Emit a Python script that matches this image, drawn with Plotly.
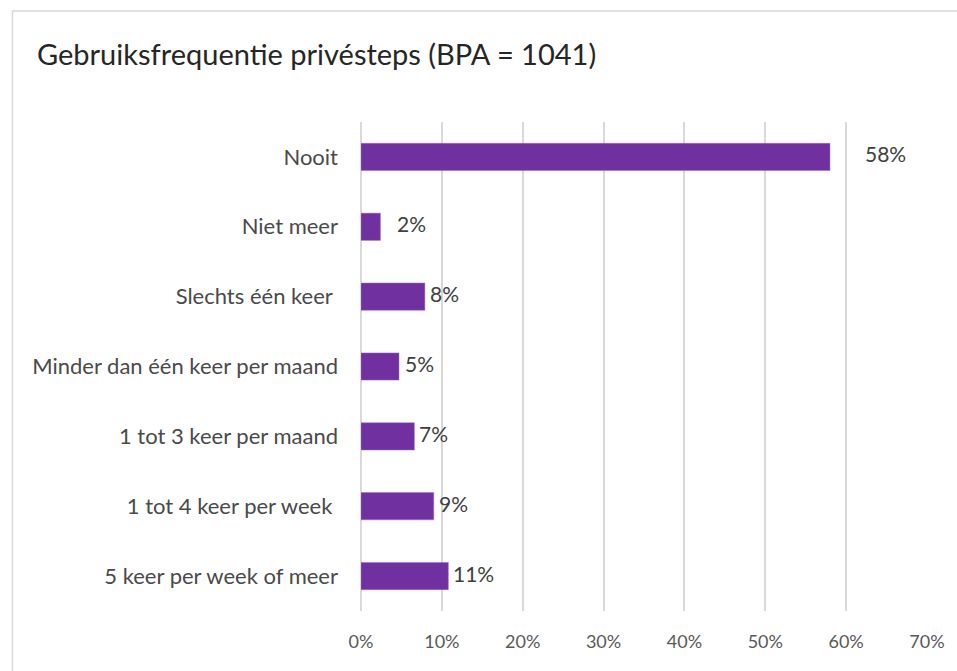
import plotly.graph_objects as go

categories = ["Nooit", "Niet meer", "Slechts één keer\u00a0", "Minder dan één keer per maand",
              "1 tot 3 keer per maand", "1 tot 4 keer per week\u00a0", "5 keer per week of meer"]
values = [58.0, 2.4, 7.9, 4.7, 6.6, 9.0, 10.8]
labels = ["58%", "2%", "8%", "5%", "7%", "9%", "11%"]
tick_vals = [0, 10, 20, 30, 40, 50, 60, 70]
tick_text = ["0%", "10%", "20%", "30%", "40%", "50%", "60%", "70%"]

# style: per-label horizontal offsets (px) as in the original chart
label_xshift = [33, 15, 3, 4, 3, 3, 3]

W, H = 957, 671
L, R, T, B = 361, 26, 122, 60
pw, ph = W - L - R, H - T - B

PURPLE = "#7030A0"
FONT = "Lato"

fig = go.Figure(go.Bar(
    x=values, y=categories, orientation="h",
    marker=dict(color=PURPLE, line=dict(color="#9a6fc4", width=0.5)),
    width=0.39, hoverinfo="skip",
))

annotations = []
for v, c, t, dx in zip(values, categories, labels, label_xshift):
    annotations.append(dict(x=v, y=c, xref="x", yref="y", text=t, showarrow=False,
                            xanchor="left", yanchor="middle", xshift=dx, yshift=3,
                            font=dict(family=FONT, size=21, color="#404040")))

def px_to_paper_x(px):
    return (px - L) / pw

def px_to_paper_y(py):
    return (H - B - py) / ph

fig.update_layout(
    width=W, height=H,
    margin=dict(l=L, r=R, t=T, b=B, pad=0),
    paper_bgcolor="white", plot_bgcolor="white",
    showlegend=False,
    title=dict(text="Gebruiksfrequentie privésteps (BPA = 1041)",
               x=37 / W, xanchor="left", xref="container",
               y=1 - 55 / H, yanchor="middle", yref="container",
               font=dict(family=FONT, size=29, color="#262626")),
    xaxis=dict(range=[0, 70], tickvals=tick_vals, ticktext=tick_text,
               showgrid=True, gridcolor="#d9d9d9", gridwidth=1.5,
               zeroline=True, zerolinecolor="#d9d9d9", zerolinewidth=1.5,
               showline=False, ticks="", ticklabelstandoff=18,
               tickfont=dict(family=FONT, size=18, color="#595959")),
    yaxis=dict(categoryorder="array", categoryarray=categories[::-1],
               showgrid=False, zeroline=False, showline=False, ticks="",
               ticklabelstandoff=22,
               tickfont=dict(family=FONT, size=22, color="#4a4a4a")),
    annotations=annotations,
    shapes=[dict(type="rect", xref="paper", yref="paper",
                 x0=px_to_paper_x(10), x1=px_to_paper_x(W + 10),
                 y0=px_to_paper_y(H + 10), y1=px_to_paper_y(11),
                 line=dict(color="#d9d9d9", width=1.5), fillcolor="rgba(0,0,0,0)",
                 layer="below")],
)

fig.write_html("out.html", config={"displayModeBar": False},
               post_script="document.body.style.margin='0';document.body.style.overflow='hidden';")
